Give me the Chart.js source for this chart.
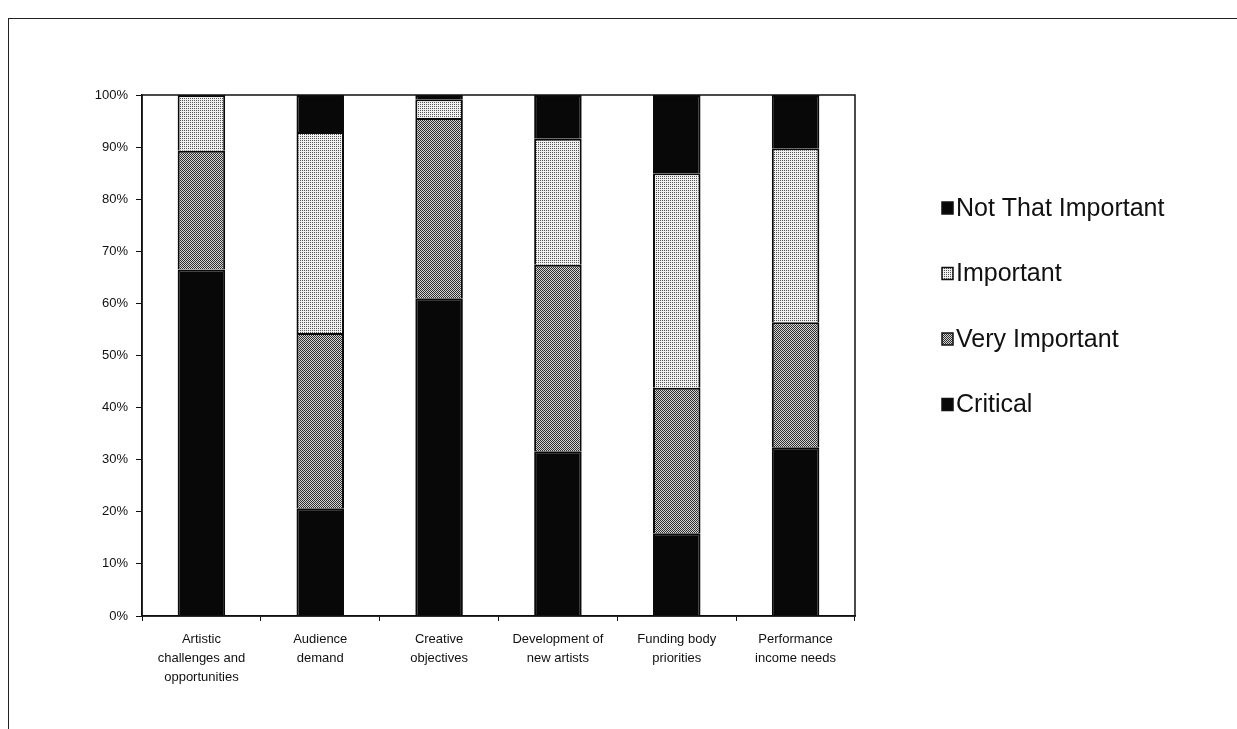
<!DOCTYPE html>
<html>
<head>
<meta charset="utf-8">
<script src="https://cdn.jsdelivr.net/npm/chart.js@4.4.1/dist/chart.umd.min.js"></script>
<style>
    html, body { margin: 0; padding: 0; background: #fff; }
    body { width: 1237px; height: 729px; position: relative; overflow: hidden; }
    #frame {
        position: absolute; left: 8px; top: 18px; width: 1300px; height: 800px;
        border-top: 1.5px solid #222; border-left: 1.5px solid #222;
    }
    #chart { position: absolute; left: 0; top: 0; }
</style>
</head>
<body>
<div id="frame"></div>
<canvas id="chart" width="1237" height="729"></canvas>
<script>
// Data (percent of respondents)
const categories = [
    ['Artistic', 'challenges and', 'opportunities'],
    ['Audience', 'demand'],
    ['Creative', 'objectives'],
    ['Development of', 'new artists'],
    ['Funding body', 'priorities'],
    ['Performance', 'income needs']
];
const critical = [66.5, 20.7, 61.0, 31.6, 15.9, 32.4];
const veryImportant = [22.8, 33.6, 34.6, 35.8, 27.9, 24.0];
const important = [10.7, 38.6, 3.6, 24.2, 41.2, 33.4];
const notThatImportant = [0, 7.1, 0.8, 8.4, 15.0, 10.2];
const yTicks = [0, 10, 20, 30, 40, 50, 60, 70, 80, 90, 100];

// ordered dither fill to look like the printed stipple
function dither(level, dark, light) {
    const bayer = [[0, 8, 2, 10], [12, 4, 14, 6], [3, 11, 1, 9], [15, 7, 13, 5]];
    const c = document.createElement('canvas');
    c.width = 4; c.height = 4;
    const g = c.getContext('2d');
    for (let y = 0; y < 4; y++) {
        for (let x = 0; x < 4; x++) {
            g.fillStyle = bayer[y][x] < level * 16 ? dark : light;
            g.fillRect(x, y, 1, 1);
        }
    }
    return document.getElementById('chart').getContext('2d').createPattern(c, 'repeat');
}

const plotFrame = {
    id: 'plotFrame',
    afterDraw(chart) {
        const a = chart.chartArea;
        const ctx = chart.ctx;
        ctx.save();
        ctx.strokeStyle = '#111';
        ctx.lineWidth = 1.5;
        ctx.strokeRect(a.left, a.top, a.right - a.left, a.bottom - a.top);
        ctx.restore();
    }
};

// legend drawn at a fixed spot to the right of the plot
const sideLegend = {
    id: 'sideLegend',
    afterDraw(chart) {
        const ctx = chart.ctx;
        const sets = chart.data.datasets.slice().reverse();
        ctx.save();
        ctx.font = '25px "Liberation Sans", Arial, sans-serif';
        ctx.textBaseline = 'middle';
        sets.forEach((ds, i) => {
            const y = 208 + i * 65.5;
            ctx.fillStyle = ds.backgroundColor;
            ctx.fillRect(942, y - 6, 11, 12);
            ctx.strokeStyle = '#111';
            ctx.lineWidth = 1.5;
            ctx.strokeRect(942, y - 6, 11, 12);
            ctx.fillStyle = '#111';
            ctx.fillText(ds.label, 956, y + 1);
        });
        ctx.restore();
    }
};

const ctx = document.getElementById('chart').getContext('2d');
const font = { family: '"Liberation Sans", Arial, sans-serif', size: 13 };

new Chart(ctx, {
    type: 'bar',
    data: {
        labels: categories,
        datasets: [
            { label: 'Critical', data: critical, backgroundColor: '#080808' },
            { label: 'Very Important', data: veryImportant, backgroundColor: dither(0.5, '#2e2e2e', '#d4d4d4') },
            { label: 'Important', data: important, backgroundColor: dither(0.25, '#555', '#f0f0f0') },
            { label: 'Not That Important', data: notThatImportant, backgroundColor: '#080808' }
        ].map(ds => Object.assign(ds, {
            borderColor: '#0a0a0a',
            borderWidth: 2,
            barPercentage: 0.4,
            categoryPercentage: 1
        }))
    },
    options: {
        responsive: false,
        animation: false,
        layout: { padding: { left: 80, top: 95, right: 382, bottom: 33 } },
        plugins: {
            legend: { display: false },
            tooltip: { enabled: false }
        },
        scales: {
            x: {
                stacked: true,
                offset: true,
                grid: { offset: true, drawOnChartArea: false, tickLength: 5, color: '#111', lineWidth: 1 },
                border: { color: '#111', width: 1.5 },
                ticks: { color: '#111', font: Object.assign({ lineHeight: 1.45 }, font), padding: 9, maxRotation: 0 },
                afterFit(scale) { scale.height = 80; }
            },
            y: {
                stacked: true,
                min: 0,
                max: 100,
                afterBuildTicks(scale) { scale.ticks = yTicks.map(v => ({ value: v })); },
                grid: { drawOnChartArea: false, tickLength: 6, color: '#111', lineWidth: 1 },
                border: { color: '#111', width: 1.5 },
                ticks: { color: '#111', font: font, padding: 8, callback: v => v + '%' },
                afterFit(scale) { scale.width = 62; }
            }
        }
    },
    plugins: [plotFrame, sideLegend]
});
</script>
</body>
</html>
